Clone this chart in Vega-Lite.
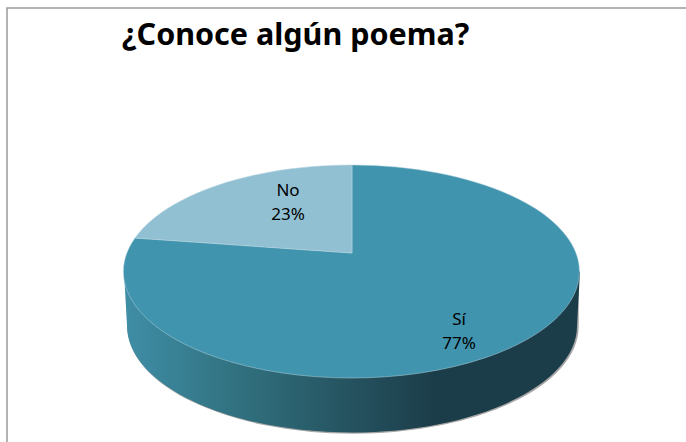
{
  "$schema": "https://vega.github.io/schema/vega-lite/v6.json",
  "width": 700,
  "height": 450,
  "padding": {"left": 7, "top": 8, "right": 0, "bottom": 0},
  "autosize": "none",
  "background": "white",
  "view": {"stroke": "#9a9a9a", "strokeWidth": 1.5, "fill": "white"},
  "title": {
    "text": "¿Conoce algún poema?",
    "font": "Noto Sans",
    "fontWeight": "bold",
    "fontSize": 30.5,
    "color": "#000000",
    "anchor": "start",
    "orient": "none",
    "frame": "group",
    "offset": 0,
    "dx": 115,
    "dy": 13
  },
  "data": {"values": [
    {"respuesta": "Sí", "porcentaje": 77},
    {"respuesta": "No", "porcentaje": 23}
  ]},
  "layer": [
    {
      "transform": [{"filter": "datum.respuesta === 'Sí'"}],
      "mark": {
        "type": "point", "filled": true, "size": 4, "opacity": 1,
        "shape": "M-225,0 A225,107 0 0 0 225,0 L225,-54 L-225,-54 Z",
        "xOffset": -4, "yOffset": 93,
        "fill": "#8a8a8a", "stroke": "#a8a8a8", "strokeWidth": 1.5
      }
    },
    {
      "transform": [{"filter": "datum.respuesta === 'Sí'"}],
      "mark": {
        "type": "point", "filled": true, "size": 4, "opacity": 1,
        "shape": "M-225,0 A225,107 0 0 0 225,0 L228,-54 L-228,-54 Z",
        "xOffset": -5, "yOffset": 92.5,
        "fill": {
          "gradient": "linear", "x1": 0, "x2": 1, "y1": 0, "y2": 0,
          "stops": [
            {"offset": 0, "color": "#3f8ea6"},
            {"offset": 0.25, "color": "#31717f"},
            {"offset": 0.5, "color": "#25525f"},
            {"offset": 0.68, "color": "#1b3d49"},
            {"offset": 1, "color": "#1b3d49"}
          ]
        }
      }
    },
    {
      "mark": {"type": "point", "filled": true, "size": 4, "opacity": 1, "xOffset": -5, "yOffset": 38.5, "stroke": "#b5d3de", "strokeWidth": 0.5},
      "encoding": {
        "shape": {
          "field": "respuesta", "type": "nominal", "legend": null,
          "scale": {
            "domain": ["Sí", "No"],
            "range": [
              "M0,-18.5 L0,-106.5 A228,106.5 0 1 1 -217,-33.5 Z",
              "M0,-18.5 L-217,-33.5 A228,106.5 0 0 1 0,-106.5 Z"
            ]
          }
        },
        "color": {
          "field": "respuesta", "type": "nominal", "legend": null,
          "scale": {"domain": ["Sí", "No"], "range": ["#4094ae", "#92c0d3"]}
        }
      }
    },
    {
      "transform": [
        {"filter": "datum.respuesta === 'No'"},
        {"calculate": "[datum.respuesta, datum.porcentaje + '%']", "as": "etiqueta"}
      ],
      "mark": {"type": "text", "font": "Noto Sans", "fontSize": 17, "lineHeight": 24, "color": "#000000", "align": "center", "baseline": "middle", "xOffset": -69, "yOffset": -42},
      "encoding": {"text": {"field": "etiqueta"}}
    },
    {
      "transform": [
        {"filter": "datum.respuesta === 'Sí'"},
        {"calculate": "[datum.respuesta, datum.porcentaje + '%']", "as": "etiqueta"}
      ],
      "mark": {"type": "text", "font": "Noto Sans", "fontSize": 17, "lineHeight": 24, "color": "#000000", "align": "center", "baseline": "middle", "xOffset": 102, "yOffset": 87},
      "encoding": {"text": {"field": "etiqueta"}}
    }
  ],
  "config": {"axis": {"disable": true}}
}
